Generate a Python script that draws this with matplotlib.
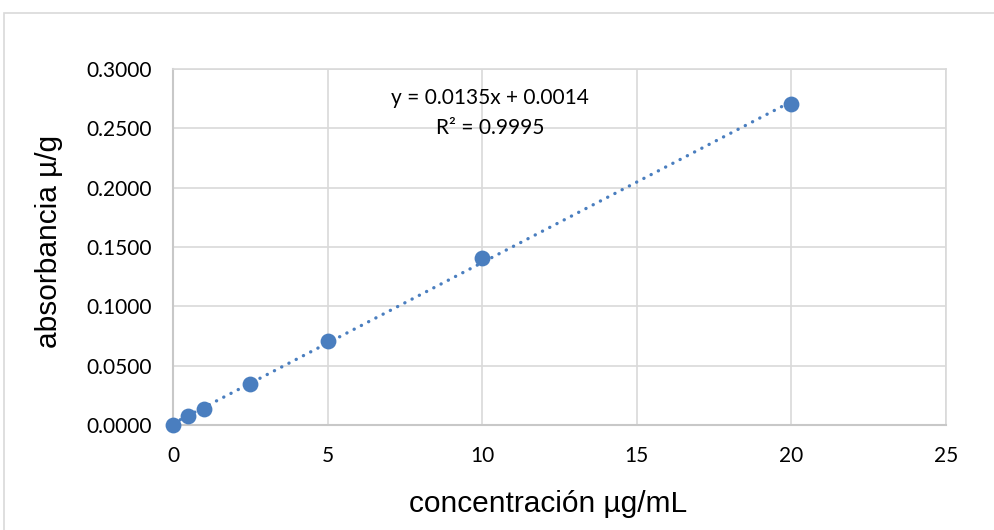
import numpy as np
import matplotlib
matplotlib.use("Agg")
import matplotlib.pyplot as plt
from matplotlib.patches import Rectangle

conc = [0, 0.5, 1, 2.5, 5, 10, 20]
absorb = [0.0, 0.0076, 0.0136, 0.0345, 0.0709, 0.1408, 0.2703]
xticks = [0, 5, 10, 15, 20, 25]
yticks = [0.0, 0.05, 0.10, 0.15, 0.20, 0.25, 0.30]
eq_line1 = "y = 0.0135x + 0.0014"
eq_line2 = "R² = 0.9995"

blue = "#4a7ebf"
grid = "#d9d9d9"
tickfont = ["Lato", "DejaVu Sans"]
labfont = ["Liberation Sans", "DejaVu Sans"]

fig = plt.figure(figsize=(9.94, 5.30), dpi=100)
fig.patches.append(Rectangle((4/994, -0.1), 1.2, (530-13)/530 + 0.1, transform=fig.transFigure,
                             fill=False, edgecolor="#d9d9d9", linewidth=1.2))
ax = fig.add_axes([173/994, 105/530, (946-173)/994, (425-69)/530])

coef = np.polyfit(conc, absorb, 1)
xs = np.array([min(conc), max(conc)])
ax.plot(xs, np.polyval(coef, xs), linestyle=(0, (0.05, 2.4)), color=blue, linewidth=2.4,
        dash_capstyle="round", zorder=2)
ax.scatter(conc, absorb, s=130, color=blue, zorder=3, linewidths=0, clip_on=False)

ax.set_xlim(0, 25)
ax.set_ylim(0, 0.3)
ax.set_xticks(xticks)
ax.set_yticks(yticks)
ax.set_xticklabels([str(t) for t in xticks], fontsize=15, family=tickfont)
ax.set_yticklabels([f"{t:.4f}" for t in yticks], fontsize=15, family=tickfont)
ax.tick_params(axis="x", length=0, pad=15)
ax.tick_params(axis="y", length=0, pad=15)
ax.grid(True, color=grid, linewidth=1.2)
ax.set_axisbelow(True)
for s in ["top", "right"]:
    ax.spines[s].set_color(grid)
    ax.spines[s].set_linewidth(1.2)
for s in ["left", "bottom"]:
    ax.spines[s].set_color("#c8c8c8")
    ax.spines[s].set_linewidth(1.5)

ax.set_xlabel("concentración µg/mL", fontsize=21.5, family=labfont)
ax.set_ylabel("absorbancia µ/g", fontsize=21.5, family=labfont)
ax.xaxis.set_label_coords(0.485, -0.183)
ax.yaxis.set_label_coords(-0.142, 0.517)

ax.text(10.25, 0.2756, eq_line1, ha="center", va="center", fontsize=15, family=tickfont)
ax.text(10.25, 0.2505, eq_line2, ha="center", va="center", fontsize=15, family=tickfont)

fig.savefig("out.png", dpi=100)
